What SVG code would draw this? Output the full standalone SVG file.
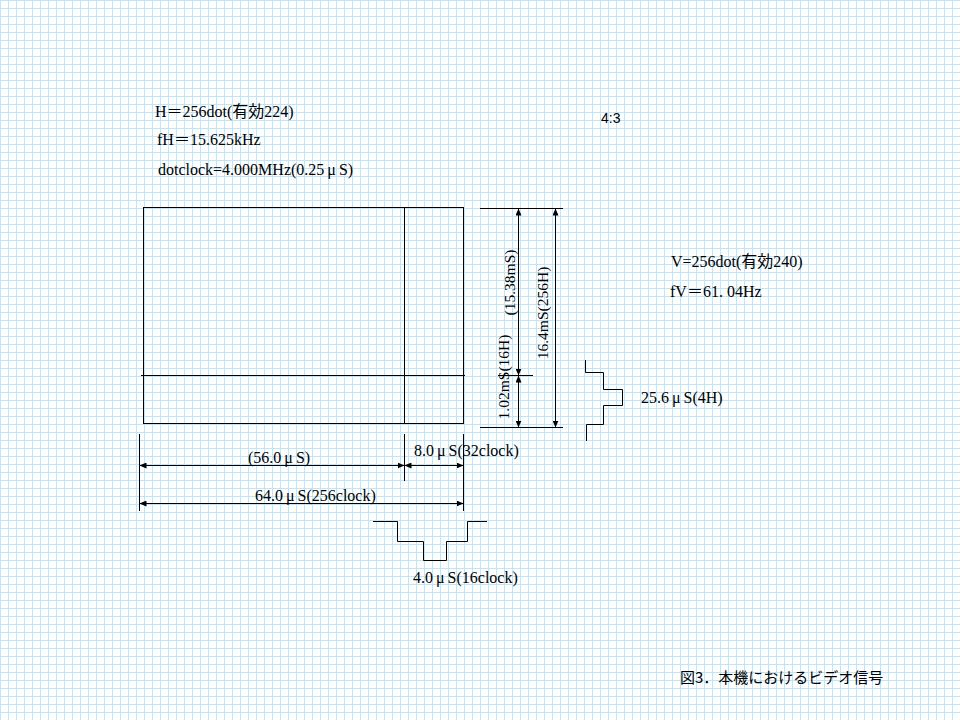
<svg xmlns="http://www.w3.org/2000/svg" width="960" height="720" viewBox="0 0 960 720">
<style>
.ln{fill:none;stroke:#000;stroke-width:1}
.ar{marker-start:url(#ah);marker-end:url(#ah)}
.t{font-family:"Liberation Serif","Noto Sans CJK JP",serif;font-size:16px;fill:#000}
.tv{font-family:"Liberation Serif","Noto Sans CJK JP",serif;font-size:15.5px;fill:#000;text-anchor:middle}
.s{font-family:"Liberation Sans","Noto Sans CJK JP",sans-serif;font-size:14px;fill:#000}
.cap{font-family:"Noto Sans CJK JP",sans-serif;font-size:15px;fill:#000}
</style>
<defs>
<pattern id="grid" width="8" height="8" patternUnits="userSpaceOnUse">
<path d="M0.5,0V8M0,0.5H8" fill="none" stroke="#bde6fa" stroke-width="1"/>
</pattern>
<marker id="ah" markerWidth="7" markerHeight="6" refX="7" refY="3" orient="auto-start-reverse" markerUnits="userSpaceOnUse">
<path d="M0,0L7,3L0,6z" fill="#000"/>
</marker>
</defs>
<rect width="960" height="720" fill="#fff"/>
<rect width="960" height="720" fill="url(#grid)"/>

<g id="screen">
<rect class="ln" x="143.5" y="207.5" width="320" height="216"/>
<path class="ln" d="M404.5,207.5V423.5M141,375.5H465"/>
</g>

<g id="connectors">
<path class="ln" d="M139.5,434V511M404.5,434V481M463.5,434V511"/>
<path class="ln ar" d="M139.5,465.5H404.5"/>
<path class="ln ar" d="M404.5,465.5H463.5"/>
<path class="ln ar" d="M139.5,503.5H463.5"/>
<path class="ln" d="M480,208.5H563M480,427.5H563M498,375.5H533"/>
<path class="ln ar" d="M518.5,208.5V375.5"/>
<path class="ln ar" d="M518.5,375.5V427.5"/>
<path class="ln ar" d="M555.5,208.5V427.5"/>
</g>

<g id="hsync">
<path class="ln" d="M373,521.5H397.5V541.5H423.5V560.5H446.5V541.5H467.5V521.5H487"/>
</g>
<g id="vsync">
<path class="ln" d="M585.5,360V372.5H603.5V389.5H622.5V405.5H603.5V424.5H586.5V441"/>
</g>

<g id="labels">
<text class="t" x="155" y="117">H＝256dot(有効224)</text>
<text class="t" x="157" y="145">fH＝15.625kHz</text>
<text class="t" x="158" y="175">dotclock=4.000MHz(0.25<tspan dx="3">μ</tspan><tspan dx="3">S)</tspan></text>
<text class="s" x="601" y="123">4:3</text>
<text class="t" x="671" y="267">V=256dot(有効240)</text>
<text class="t" x="670" y="297">fV＝61. 04Hz</text>
<text class="t" x="641" y="403">25.6<tspan dx="3">μ</tspan><tspan dx="3">S(4H)</tspan></text>
<text class="t" x="248" y="463">(56.0<tspan dx="3">μ</tspan><tspan dx="3">S)</tspan></text>
<text class="t" x="414" y="456">8.0<tspan dx="3">μ</tspan><tspan dx="3">S(32clock)</tspan></text>
<text class="t" x="255" y="501">64.0<tspan dx="3">μ</tspan><tspan dx="3">S(256clock)</tspan></text>
<text class="t" x="413" y="583">4.0<tspan dx="3">μ</tspan><tspan dx="3">S(16clock)</tspan></text>
<text class="tv" transform="translate(515,282.5) rotate(-90)">(15.38mS)</text>
<text class="tv" transform="translate(548,313) rotate(-90)">16.4mS(256H)</text>
<text class="tv" transform="translate(509,377) rotate(-90)">1.02mS(16H)</text>
<text class="cap" x="680" y="683">図3．本機におけるビデオ信号</text>
</g>
</svg>
